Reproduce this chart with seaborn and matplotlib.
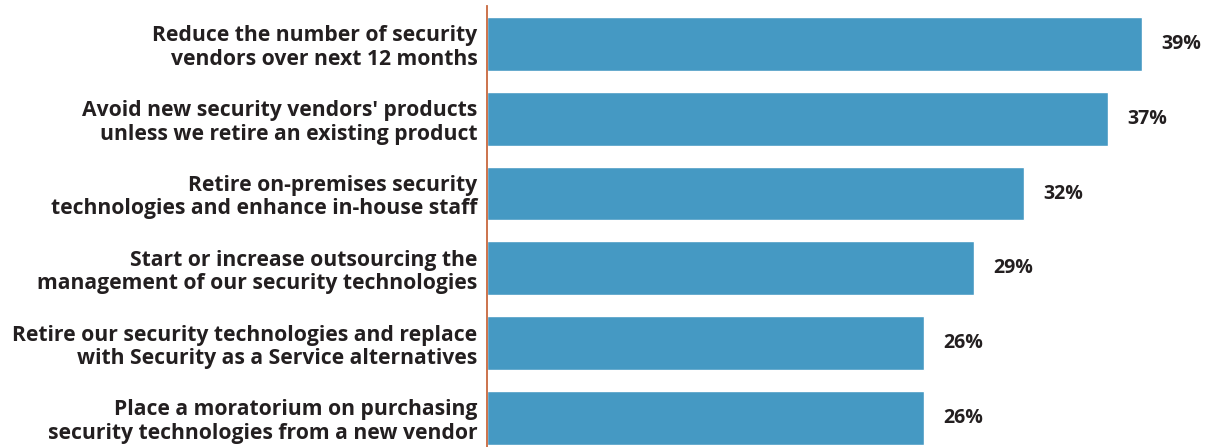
import matplotlib
matplotlib.use("Agg")
import matplotlib.pyplot as plt
import seaborn as sns
import pandas as pd

categories = [
    "Reduce the number of security\nvendors over next 12 months",
    "Avoid new security vendors' products\nunless we retire an existing product",
    "Retire on-premises security\ntechnologies and enhance in-house staff",
    "Start or increase outsourcing the\nmanagement of our security technologies",
    "Retire our security technologies and replace\nwith Security as a Service alternatives",
    "Place a moratorium on purchasing\nsecurity technologies from a new vendor",
]
values = [39, 37, 32, 29, 26, 26]
value_labels = ["39%", "37%", "32%", "29%", "26%", "26%"]

bar_color = "#4599C3"
axis_color = "#C8683E"
text_color = "#231F20"

sns.set_theme(style="white")
plt.rcParams["font.family"] = ["Open Sans", "DejaVu Sans"]

df = pd.DataFrame({"category": categories, "value": values})

fig = plt.figure(figsize=(12.1, 4.47), dpi=100)
ax = fig.add_axes([487 / 1210, 0.0, 1 - 487 / 1210, 1 - 6 / 447])

sns.barplot(data=df, x="value", y="category", orient="h", color=bar_color,
            saturation=1, width=0.72, ax=ax)

ax.set_xlim(0, 43.06)
ax.set_ylim(5.39, -0.508)

for i, (v, lab) in enumerate(zip(values, value_labels)):
    ax.annotate(lab, xy=(v, i), xytext=(14, 0), textcoords="offset points",
                ha="left", va="center", fontsize=14, fontweight="bold",
                color=text_color)

ax.set_xlabel("")
ax.set_ylabel("")
ax.set_xticks([])
ax.tick_params(axis="y", length=0, pad=7)
for lbl in ax.get_yticklabels():
    lbl.set_fontsize(15.2)
    lbl.set_fontweight("bold")
    lbl.set_color(text_color)
    lbl.set_horizontalalignment("right")
    lbl.set_multialignment("right")
    lbl.set_linespacing(1.15)

for side in ["top", "right", "bottom"]:
    ax.spines[side].set_visible(False)
ax.spines["left"].set_color(axis_color)
ax.spines["left"].set_linewidth(1.3)

fig.savefig("out.png", dpi=100)
